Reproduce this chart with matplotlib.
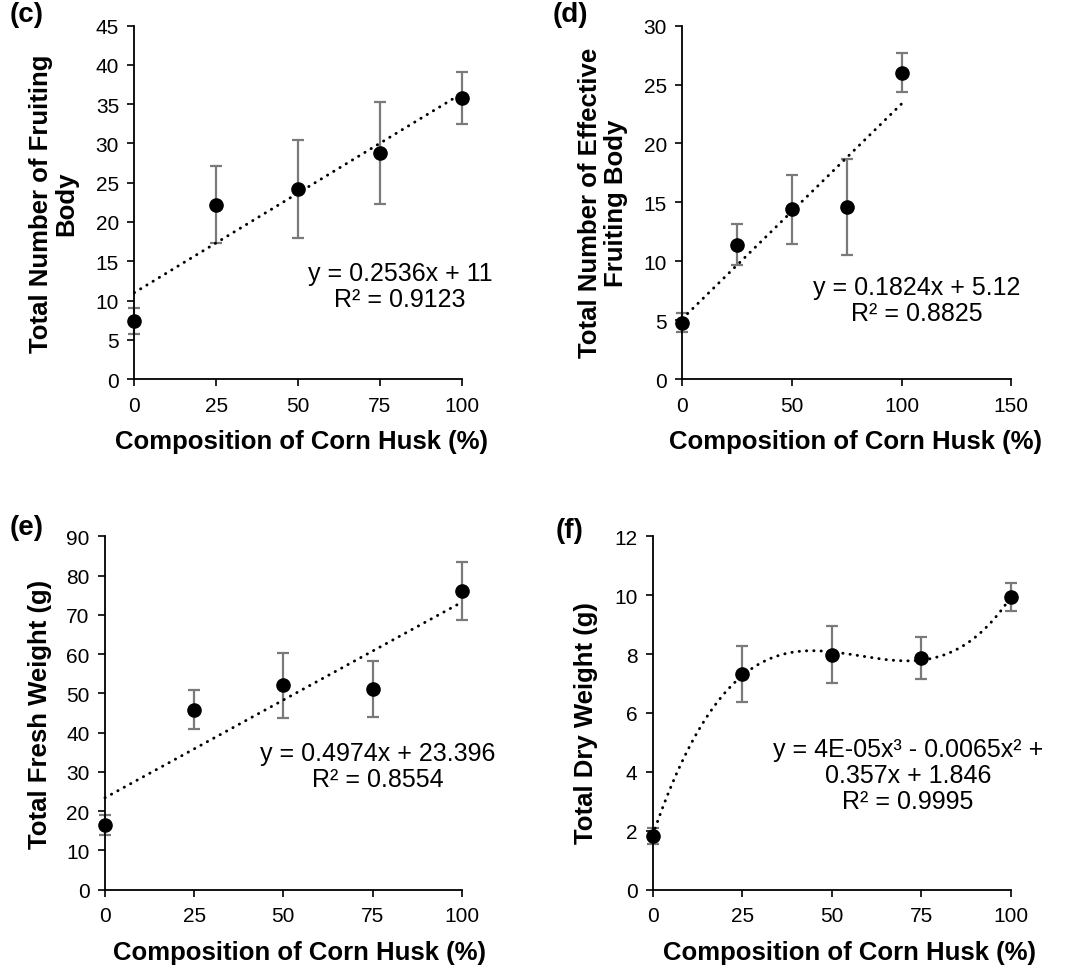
import numpy as np
import matplotlib
matplotlib.use("Agg")
import matplotlib.pyplot as plt

plt.rcParams['font.family'] = ['Liberation Sans', 'DejaVu Sans']

# ---- data ----
x_pct = [0, 25, 50, 75, 100]

fb_total = [7.4, 22.2, 24.2, 28.8, 35.8]
fb_total_err = [1.7, 4.9, 6.3, 6.5, 3.3]

fb_eff = [4.8, 11.4, 14.4, 14.6, 26.0]
fb_eff_err = [0.8, 1.75, 2.95, 4.1, 1.65]

fresh_w = [16.5, 45.8, 52.0, 51.1, 76.1]
fresh_w_err = [2.5, 5.0, 8.2, 7.2, 7.4]

dry_w = [1.83, 7.33, 7.98, 7.86, 9.93]
dry_w_err = [0.27, 0.96, 0.96, 0.72, 0.48]

xlabel = "Composition of Corn Husk (%)"

panels = [
    dict(tag="(c)", y=fb_total, e=fb_total_err, deg=1,
         ylabel="Total Number of Fruiting\nBody",
         eq="y = 0.2536x + 11\nR² = 0.9123",
         ylim=(0, 45), yticks=np.arange(0, 46, 5), xlim=(0, 100), xticks=[0, 25, 50, 75, 100],
         rect=[0.1259, 0.6082, 0.3068, 0.3643], ylc=(-0.17, 0.5), xlc=(0.51, -0.1415),
         eqpos=(0.8115, 0.263), tagpos=(10, 2)),
    dict(tag="(d)", y=fb_eff, e=fb_eff_err, deg=1,
         ylabel="Total Number of Effective\nFruiting Body",
         eq="y = 0.1824x + 5.12\nR² = 0.8825",
         ylim=(0, 30), yticks=np.arange(0, 31, 5), xlim=(0, 150), xticks=[0, 50, 100, 150],
         rect=[0.6395, 0.6082, 0.3081, 0.3643], ylc=(-0.165, 0.5), xlc=(0.528, -0.1415),
         eqpos=(0.714, 0.2236), tagpos=(553, 2)),
    dict(tag="(e)", y=fresh_w, e=fresh_w_err, deg=1,
         ylabel="Total Fresh Weight (g)",
         eq="y = 0.4974x + 23.396\nR² = 0.8554",
         ylim=(0, 90), yticks=np.arange(0, 91, 10), xlim=(0, 100), xticks=[0, 25, 50, 75, 100],
         rect=[0.0984, 0.0818, 0.3343, 0.3643], ylc=(-0.149, 0.5), xlc=(0.544, -0.1415),
         eqpos=(0.765, 0.35), tagpos=(10, 515)),
    dict(tag="(f)", y=dry_w, e=dry_w_err, deg=3,
         ylabel="Total Dry Weight (g)",
         eq="y = 4E-05x³ - 0.0065x² +\n0.357x + 1.846\nR² = 0.9995",
         ylim=(0, 12), yticks=np.arange(0, 13, 2), xlim=(0, 100), xticks=[0, 25, 50, 75, 100],
         rect=[0.6117, 0.0818, 0.3358, 0.3643], ylc=(-0.153, 0.475), xlc=(0.55, -0.1415),
         eqpos=(0.7125, 0.3245), tagpos=(556, 518)),
]

W, H = 1067, 970
fig = plt.figure(figsize=(W / 100, H / 100), dpi=100)

for p in panels:
    ax = fig.add_axes(p["rect"])
    ax.errorbar(x_pct, p["y"], yerr=p["e"], fmt='none', ecolor='#7a7a7a',
                elinewidth=1.6, capsize=4, capthick=1.6, zorder=2, clip_on=False)
    coef = np.polyfit(x_pct, p["y"], p["deg"])
    xs = np.linspace(min(x_pct), max(x_pct), 300)
    ax.plot(xs, np.polyval(coef, xs), color='black', lw=2.1,
            linestyle=(0, (0.1, 2.4)), dash_capstyle='round', zorder=3, clip_on=False)
    ax.plot(x_pct, p["y"], 'o', color='black', ms=9.5, zorder=4, clip_on=False)

    ax.set_xlim(*p["xlim"])
    ax.set_ylim(*p["ylim"])
    ax.set_xticks(p["xticks"])
    ax.set_yticks(p["yticks"])
    for s in ['top', 'right']:
        ax.spines[s].set_visible(False)
    for s in ['left', 'bottom']:
        ax.spines[s].set_linewidth(1.3)
        ax.spines[s].set_color('black')
    ax.tick_params(direction='out', length=5, width=1.2, labelsize=15, colors='black')
    ax.tick_params(axis='y', pad=6)
    ax.tick_params(axis='x', pad=7)

    ax.set_ylabel(p["ylabel"], fontsize=18.5, fontweight='bold', linespacing=1.1)
    ax.yaxis.set_label_coords(*p["ylc"])
    ax.set_xlabel(xlabel, fontsize=18.5, fontweight='bold')
    ax.xaxis.set_label_coords(*p["xlc"])

    ax.text(p["eqpos"][0], p["eqpos"][1], p["eq"], transform=ax.transAxes,
            ha='center', va='center', fontsize=18, linespacing=1.1)

    fig.text(p["tagpos"][0] / W, 1 - p["tagpos"][1] / H, p["tag"],
             ha='left', va='top', fontsize=20, fontweight='bold')

fig.savefig("out.png", dpi=100)
